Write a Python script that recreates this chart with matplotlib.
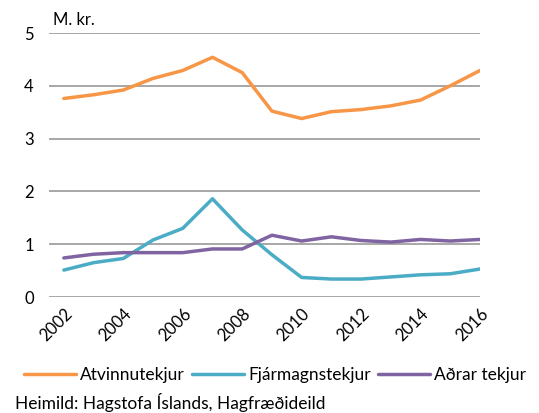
import matplotlib
matplotlib.use("Agg")
import matplotlib.pyplot as plt

years = list(range(2002, 2017))
atvinnutekjur = [3.76, 3.83, 3.92, 4.14, 4.29, 4.54, 4.25, 3.52, 3.38, 3.51, 3.55, 3.62, 3.73, 4.00, 4.29]
fjarmagnstekjur = [0.51, 0.65, 0.73, 1.08, 1.30, 1.86, 1.27, 0.80, 0.37, 0.34, 0.34, 0.38, 0.42, 0.44, 0.53]
adrar_tekjur = [0.74, 0.81, 0.84, 0.84, 0.84, 0.91, 0.91, 1.17, 1.06, 1.14, 1.07, 1.04, 1.09, 1.06, 1.09]
series_names = ["Atvinnutekjur", "Fjármagnstekjur", "Aðrar tekjur"]
colors = ["#F79646", "#4BACC6", "#8064A2"]
xticks = list(range(2002, 2017, 2))
yticks = [0, 1, 2, 3, 4, 5]

plt.rcParams['font.family'] = ['Lato', 'DejaVu Sans']

fig = plt.figure(figsize=(5.39, 4.13), dpi=100)
ax = fig.add_axes([49/539, 1 - 297/413, (480 - 49)/539, (297 - 33)/413])

for vals, name, c in zip([atvinnutekjur, fjarmagnstekjur, adrar_tekjur], series_names, colors):
    ax.plot(years, vals, color=c, lw=2.5, label=name, solid_capstyle='round', zorder=3)

ax.set_xlim(2001.5, 2016.0)
ax.set_ylim(0, 5)
ax.set_yticks(yticks)
ax.set_xticks(xticks)
ax.set_xticklabels([str(x) for x in xticks], rotation=45, ha='right', rotation_mode='anchor')
ax.yaxis.grid(True, color='#A0A0A0', lw=1.3)
ax.set_axisbelow(True)
for s in ax.spines.values():
    s.set_visible(False)
ax.tick_params(axis='both', length=0, labelsize=12, colors='black')
ax.tick_params(axis='y', pad=11)
ax.tick_params(axis='x', pad=6)

ax.text(0.01, 1.02, "M. kr.", transform=ax.transAxes, fontsize=12, va='bottom', ha='left')

handles, labels = ax.get_legend_handles_labels()
fig.legend(handles, labels, loc='center', bbox_to_anchor=(275/539, 1 - 375/413), ncol=3,
           frameon=False, fontsize=12.5, handlelength=3.0, handletextpad=0.25, columnspacing=0.4)

fig.text(15/539, 1 - 403/413, "Heimild: Hagstofa Íslands, Hagfræðideild", fontsize=12.5, va='center', ha='left')

fig.savefig("out.png", dpi=100)
